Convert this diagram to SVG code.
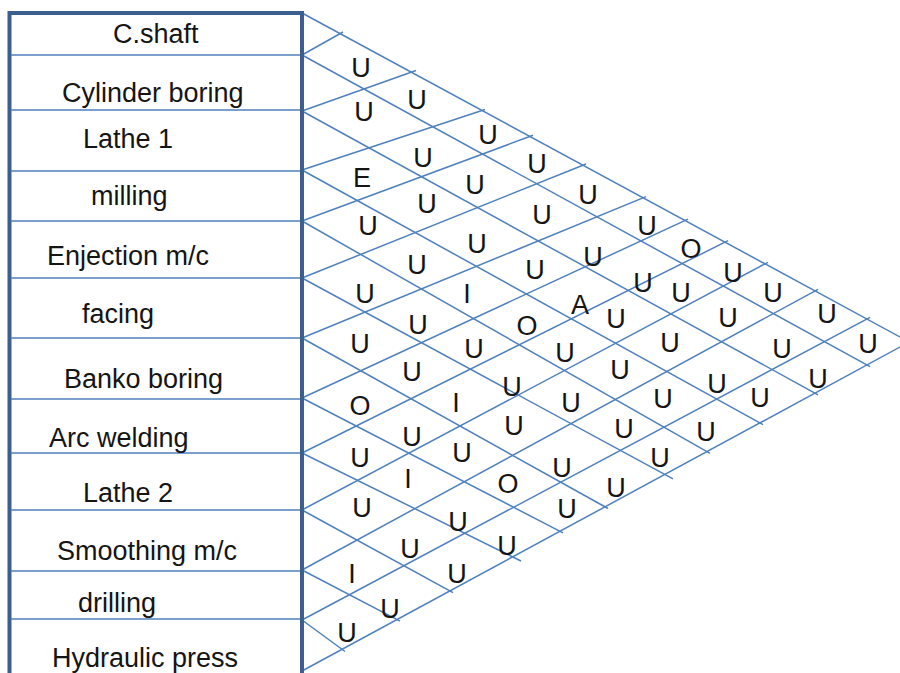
<svg xmlns="http://www.w3.org/2000/svg" width="900" height="673" viewBox="0 0 900 673">
<style>
.lbl{font-family:"Liberation Sans",Arial,sans-serif;font-size:27px;fill:#151515}
.rel{font-family:"Liberation Sans",Arial,sans-serif;font-size:27px;fill:#151515;text-anchor:middle}
.sep{stroke:#4f81bd;stroke-width:1.6}
.grid line{stroke:#4f81bd;stroke-width:1.5;fill:none}
.frame{fill:#fff;stroke:#3b5f8f;stroke-width:4}
</style>
<rect width="900" height="673" fill="#fff"/>
<g id="connectors" class="grid">
<line x1="302" y1="13" x2="910" y2="342.4"/>
<line x1="302" y1="671" x2="910" y2="341.6"/>
<line x1="302" y1="55" x2="343" y2="32"/>
<line x1="302" y1="111" x2="416" y2="70.5"/>
<line x1="302" y1="170" x2="485" y2="109.5"/>
<line x1="302" y1="221" x2="533" y2="135.3"/>
<line x1="302" y1="278" x2="586" y2="164"/>
<line x1="302" y1="338" x2="646" y2="196.6"/>
<line x1="302" y1="398" x2="688" y2="219.1"/>
<line x1="302" y1="453" x2="728" y2="240.7"/>
<line x1="302" y1="510" x2="768" y2="262.3"/>
<line x1="302" y1="570" x2="818" y2="289.3"/>
<line x1="302" y1="620" x2="870" y2="317.4"/>
<line x1="302" y1="55" x2="870" y2="366.6"/>
<line x1="302" y1="111" x2="818" y2="394.8"/>
<line x1="302" y1="170" x2="763" y2="424.6"/>
<line x1="302" y1="221" x2="710" y2="453.4"/>
<line x1="302" y1="278" x2="673" y2="478.8"/>
<line x1="302" y1="338" x2="608" y2="508.5"/>
<line x1="302" y1="398" x2="563" y2="532.8"/>
<line x1="302" y1="453" x2="521" y2="561"/>
<line x1="302" y1="510" x2="453" y2="592.6"/>
<line x1="302" y1="570" x2="400" y2="621.2"/>
<line x1="302" y1="620" x2="345" y2="651.5"/>
</g>
<g id="departments">
<rect class="frame" x="9.5" y="13" width="292.5" height="680"/>
<g class="seps">
<line class="sep" x1="11" y1="55" x2="300" y2="55"/>
<line class="sep" x1="11" y1="110" x2="300" y2="110"/>
<line class="sep" x1="11" y1="171" x2="300" y2="171"/>
<line class="sep" x1="11" y1="221" x2="300" y2="221"/>
<line class="sep" x1="11" y1="278" x2="300" y2="278"/>
<line class="sep" x1="11" y1="338" x2="300" y2="338"/>
<line class="sep" x1="11" y1="399" x2="300" y2="399"/>
<line class="sep" x1="11" y1="453" x2="300" y2="453"/>
<line class="sep" x1="11" y1="510" x2="300" y2="510"/>
<line class="sep" x1="11" y1="571" x2="300" y2="571"/>
<line class="sep" x1="11" y1="619" x2="300" y2="619"/>
</g>
<g id="d1"><text class="lbl" x="113" y="43">C.shaft</text></g>
<g id="d2"><text class="lbl" x="62" y="102">Cylinder boring</text></g>
<g id="d3"><text class="lbl" x="83" y="148">Lathe 1</text></g>
<g id="d4"><text class="lbl" x="91" y="205">milling</text></g>
<g id="d5"><text class="lbl" x="47" y="265">Enjection m/c</text></g>
<g id="d6"><text class="lbl" x="82" y="323">facing</text></g>
<g id="d7"><text class="lbl" x="64" y="388">Banko boring</text></g>
<g id="d8"><text class="lbl" x="49" y="447">Arc welding</text></g>
<g id="d9"><text class="lbl" x="83" y="502">Lathe 2</text></g>
<g id="d10"><text class="lbl" x="57" y="560">Smoothing m/c</text></g>
<g id="d11"><text class="lbl" x="78" y="612">drilling</text></g>
<g id="d12"><text class="lbl" x="52" y="667">Hydraulic press</text></g>
</g>
<g id="relations">
<text class="rel" x="361" y="77">U</text>
<text class="rel" x="364" y="121">U</text>
<text class="rel" x="417" y="109">U</text>
<text class="rel" x="488" y="144">U</text>
<text class="rel" x="362" y="187">E</text>
<text class="rel" x="423" y="167">U</text>
<text class="rel" x="537" y="173">U</text>
<text class="rel" x="475" y="194">U</text>
<text class="rel" x="427" y="213">U</text>
<text class="rel" x="588" y="204">U</text>
<text class="rel" x="368" y="235">U</text>
<text class="rel" x="542" y="224">U</text>
<text class="rel" x="647" y="235">U</text>
<text class="rel" x="477" y="253">U</text>
<text class="rel" x="417" y="274">U</text>
<text class="rel" x="535" y="279">U</text>
<text class="rel" x="593" y="266">U</text>
<text class="rel" x="691" y="258">O</text>
<text class="rel" x="733" y="282">U</text>
<text class="rel" x="643" y="292">U</text>
<text class="rel" x="365" y="303">U</text>
<text class="rel" x="467" y="303">I</text>
<text class="rel" x="580" y="314">A</text>
<text class="rel" x="681" y="302">U</text>
<text class="rel" x="773" y="302">U</text>
<text class="rel" x="616" y="328">U</text>
<text class="rel" x="728" y="327">U</text>
<text class="rel" x="827" y="323">U</text>
<text class="rel" x="418" y="334">U</text>
<text class="rel" x="527" y="335">O</text>
<text class="rel" x="360" y="353">U</text>
<text class="rel" x="474" y="358">U</text>
<text class="rel" x="565" y="362">U</text>
<text class="rel" x="670" y="352">U</text>
<text class="rel" x="782" y="358">U</text>
<text class="rel" x="868" y="353">U</text>
<text class="rel" x="412" y="381">U</text>
<text class="rel" x="620" y="379">U</text>
<text class="rel" x="512" y="396">U</text>
<text class="rel" x="717" y="393">U</text>
<text class="rel" x="818" y="388">U</text>
<text class="rel" x="360" y="415">O</text>
<text class="rel" x="456" y="412">I</text>
<text class="rel" x="571" y="412">U</text>
<text class="rel" x="663" y="408">U</text>
<text class="rel" x="760" y="407">U</text>
<text class="rel" x="514" y="435">U</text>
<text class="rel" x="412" y="446">U</text>
<text class="rel" x="624" y="438">U</text>
<text class="rel" x="706" y="441">U</text>
<text class="rel" x="462" y="462">U</text>
<text class="rel" x="360" y="467">U</text>
<text class="rel" x="562" y="477">U</text>
<text class="rel" x="660" y="467">U</text>
<text class="rel" x="408" y="488">I</text>
<text class="rel" x="508" y="493">O</text>
<text class="rel" x="616" y="497">U</text>
<text class="rel" x="362" y="517">U</text>
<text class="rel" x="458" y="531">U</text>
<text class="rel" x="567" y="518">U</text>
<text class="rel" x="410" y="558">U</text>
<text class="rel" x="507" y="555">U</text>
<text class="rel" x="352" y="583">I</text>
<text class="rel" x="457" y="583">U</text>
<text class="rel" x="390" y="618">U</text>
<text class="rel" x="347" y="642">U</text>
</g>
</svg>
